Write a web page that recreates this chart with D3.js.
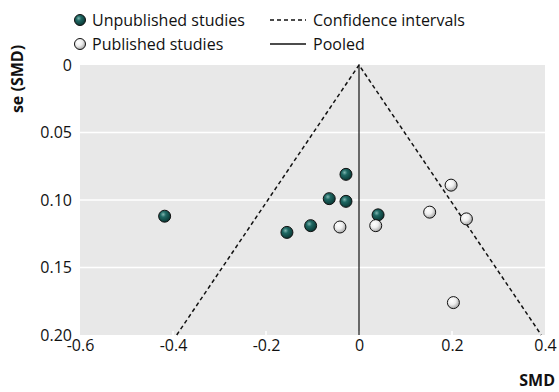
<!DOCTYPE html>
<html>
<head>
<meta charset="utf-8">
<script src="https://cdn.jsdelivr.net/npm/d3@7"></script>
<style>
  body { margin: 0; background: #fff; }
  svg { display: block; font-family: "Open Sans", sans-serif; }
  .tick text { font-size: 16px; fill: #111; font-family: "Open Sans", sans-serif; }
</style>
</head>
<body>
<svg width="559" height="392"></svg>
<script>
"use strict";

// data
const unpubSmd = [-0.418, -0.028, -0.064, -0.028, -0.104, -0.155, 0.041];
const unpubSe  = [0.112, 0.081, 0.099, 0.101, 0.119, 0.124, 0.111];
const pubSmd = [-0.041, 0.036, 0.198, 0.152, 0.231, 0.203];
const pubSe  = [0.120, 0.119, 0.089, 0.109, 0.114, 0.176];
const pooled = 0;
const xTicks = [-0.6, -0.4, -0.2, 0, 0.2, 0.4];
const xTickLabels = ["-0.6", "-0.4", "-0.2", "0", "0.2", "0.4"];
const yTicks = [0, 0.05, 0.10, 0.15, 0.20];
const yTickLabels = ["0", "0.05", "0.10", "0.15", "0.20"];

const svg = d3.select("svg");
const plotLeft = 80, plotRight = 545, plotTop = 65, plotBottom = 335;

const x = d3.scaleLinear().domain([-0.6, 0.4]).range([plotLeft, plotRight]);
const y = d3.scaleLinear().domain([0, 0.2]).range([plotTop, plotBottom]);

// gradients for the shaded balls
const defs = svg.append("defs");
function ball(id, stops) {
  const g = defs.append("radialGradient").attr("id", id)
    .attr("cx", "38%").attr("cy", "35%").attr("r", "65%");
  stops.forEach(s => g.append("stop").attr("offset", s[0]).attr("stop-color", s[1]));
}
ball("dark", [["0%", "#7fb5b0"], ["35%", "#1f6863"], ["100%", "#0a3734"]]);
ball("light", [["0%", "#ffffff"], ["50%", "#eeeeee"], ["100%", "#a9a9a9"]]);

// plot background
svg.append("rect")
  .attr("x", plotLeft).attr("y", plotTop)
  .attr("width", plotRight - plotLeft).attr("height", plotBottom - plotTop)
  .attr("fill", "#e8e8e8");

// gridlines
svg.append("g").selectAll("line")
  .data(yTicks.slice(1, -1))
  .join("line")
  .attr("x1", plotLeft).attr("x2", plotRight)
  .attr("y1", d => y(d)).attr("y2", d => y(d))
  .attr("stroke", "#fff").attr("stroke-width", 1.5);

// axes
const yAxis = svg.append("g")
  .attr("transform", `translate(${plotLeft},0)`)
  .call(d3.axisLeft(y).tickValues(yTicks)
    .tickFormat((d, i) => yTickLabels[i]).tickSize(0).tickPadding(8));
yAxis.select(".domain").remove();

const xAxis = svg.append("g")
  .attr("transform", `translate(0,${plotBottom})`)
  .call(d3.axisBottom(x).tickValues(xTicks)
    .tickFormat((d, i) => xTickLabels[i]).tickSize(0).tickPadding(5));
xAxis.select(".domain").remove();

// small white tick marks inside the bottom edge
svg.append("g").selectAll("line")
  .data(xTicks.slice(1, -1))
  .join("line")
  .attr("x1", d => x(d)).attr("x2", d => x(d))
  .attr("y1", plotBottom - 4).attr("y2", plotBottom)
  .attr("stroke", "#fff").attr("stroke-width", 1.5);

// confidence funnel
const seMax = 0.2;
svg.append("path")
  .attr("d", d3.line()([
    [x(pooled - 1.96 * seMax), y(seMax)],
    [x(pooled), y(0)],
    [x(pooled + 1.96 * seMax), y(seMax)]
  ]))
  .attr("fill", "none").attr("stroke", "#111")
  .attr("stroke-width", 1.5).attr("stroke-dasharray", "4,3");

// pooled estimate
svg.append("line")
  .attr("x1", x(pooled)).attr("x2", x(pooled))
  .attr("y1", y(0)).attr("y2", y(seMax))
  .attr("stroke", "#111").attr("stroke-width", 1.2);

// points
function points(xs, ys, fill) {
  svg.append("g").selectAll("circle")
    .data(xs.map((d, i) => [d, ys[i]]))
    .join("circle")
    .attr("cx", d => x(d[0])).attr("cy", d => y(d[1]))
    .attr("r", 6)
    .attr("fill", fill)
    .attr("stroke", "#111").attr("stroke-width", 1);
}
points(unpubSmd, unpubSe, "url(#dark)");
points(pubSmd, pubSe, "url(#light)");

// legend
const legend = svg.append("g").attr("font-size", 16).attr("fill", "#111");
legend.append("circle").attr("cx", 80).attr("cy", 20).attr("r", 5.5)
  .attr("fill", "url(#dark)").attr("stroke", "#111");
legend.append("text").attr("x", 92).attr("y", 26).text("Unpublished studies");
legend.append("circle").attr("cx", 80).attr("cy", 44).attr("r", 5.5)
  .attr("fill", "url(#light)").attr("stroke", "#111");
legend.append("text").attr("x", 92).attr("y", 50).text("Published studies");
legend.append("line").attr("x1", 270).attr("x2", 306).attr("y1", 20).attr("y2", 20)
  .attr("stroke", "#111").attr("stroke-width", 1.3).attr("stroke-dasharray", "4,3");
legend.append("text").attr("x", 313).attr("y", 26).text("Confidence intervals");
legend.append("line").attr("x1", 270).attr("x2", 306).attr("y1", 44).attr("y2", 44)
  .attr("stroke", "#111").attr("stroke-width", 1.3);
legend.append("text").attr("x", 313).attr("y", 50).text("Pooled");

// axis titles
svg.append("text")
  .attr("transform", "translate(23,79) rotate(-90)")
  .attr("text-anchor", "middle")
  .attr("font-size", 16).attr("font-weight", "bold").attr("fill", "#111")
  .text("se (SMD)");
svg.append("text")
  .attr("x", 555).attr("y", 386)
  .attr("text-anchor", "end")
  .attr("font-size", 16).attr("font-weight", "bold").attr("fill", "#111")
  .text("SMD");
</script>
</body>
</html>
